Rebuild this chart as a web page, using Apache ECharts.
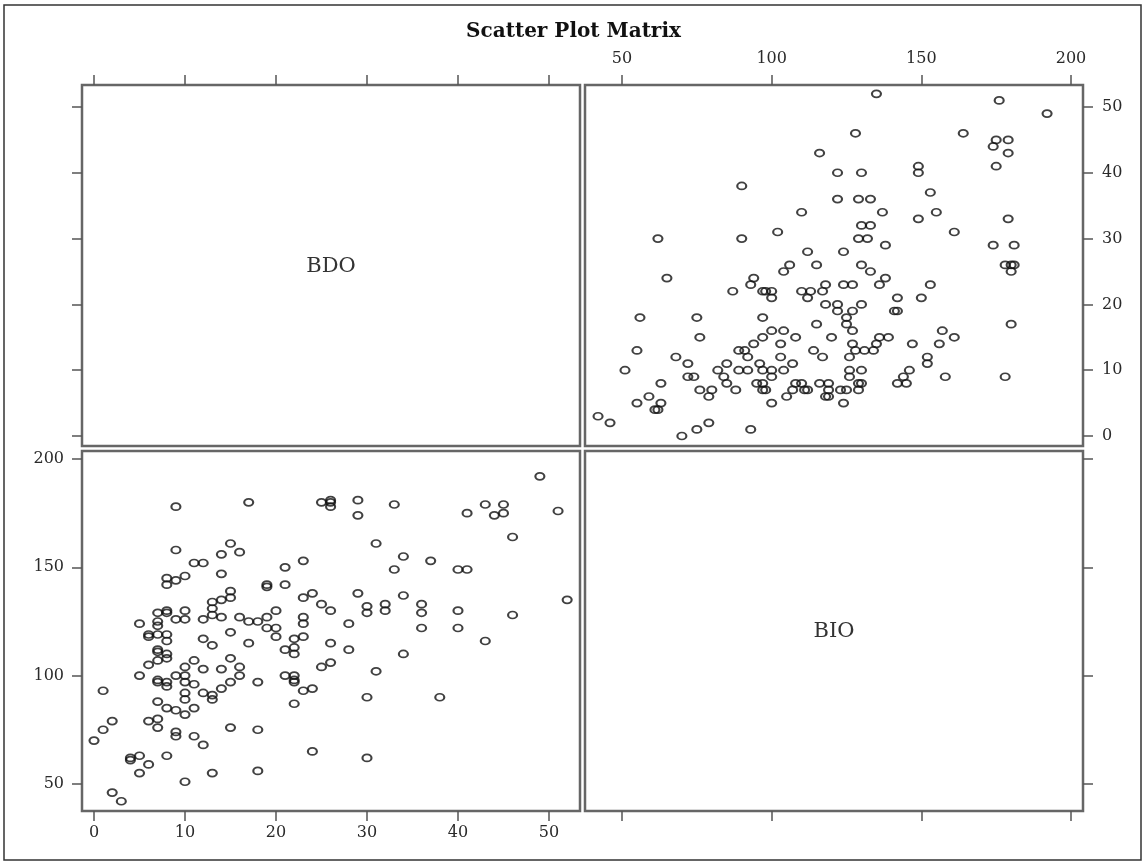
<!DOCTYPE html>
<html>
<head>
<meta charset="utf-8">
<script src="https://cdn.jsdelivr.net/npm/echarts@6/dist/echarts.min.js"></script>
<style>
  html, body { margin: 0; padding: 0; background: #fff; }
  #main { width: 1147px; height: 862px; }
</style>
</head>
<body>
<div id="main"></div>
<script>
var bdo = [49,25,26,26,26,29,29,33,33,41,43,44,45,45,46,51,31,34,37,40,41,29,34,25,26,30,30,32,32,36,36,40,52,28,36,40,46,26,28,34,43,25,26,31,30,38,30,
  9,17,9,15,14,16,11,12,23,21,8,8,9,10,14,19,19,21,15,15,23,24,13,14,13,13,7,8,8,10,20,7,7,5,9,10,12,14,16,17,18,19,23,23,19,20,15,6,6,7,8,8,12,13,17,20,22,23,21,7,
  22,22,7,8,8,7,6,5,11,10,9,10,12,14,15,16,16,15,14,13,13,12,11,10,10,10,7,7,8,8,7,8,9,10,11,6,7,7,9,9,11,12,15,18,21,22,22,22,23,24,22,18,24,1,2,1,0,4,4,5,6,5,8,13,10,18,2,3];
var bio = [192,180,181,178,180,181,174,179,149,175,179,174,179,175,164,176,161,155,153,149,149,138,137,133,130,132,129,133,130,133,129,130,135,124,122,122,128,115,112,110,116,104,106,102,90,90,62,
  178,180,158,161,156,157,152,152,153,150,145,142,144,146,147,141,142,142,139,136,136,138,134,135,131,128,129,129,130,130,130,125,123,124,126,126,126,127,127,125,125,127,127,124,122,122,120,119,118,119,119,116,117,114,115,118,117,118,112,112,
  113,110,111,110,108,107,105,100,107,104,100,100,103,103,108,104,100,97,94,91,89,92,96,97,92,89,97,98,97,95,88,85,84,82,85,79,80,76,74,72,72,68,76,75,100,100,97,98,93,94,87,97,65,93,79,75,70,62,61,63,59,55,63,55,51,56,46,42];

var bdoTicks = [0, 10, 20, 30, 40, 50];
var bioTicks = [50, 100, 150, 200];

var lowerLeft = bdo.map(function (v, i) { return [v, bio[i]]; });
var upperRight = bdo.map(function (v, i) { return [bio[i], v]; });

var FONT = 'DejaVu Serif';

function axis(gridIndex, pos, min, max, ticks, showLabel, margin) {
  return {
    type: 'value',
    gridIndex: gridIndex,
    position: pos,
    min: min,
    max: max,
    axisLine: { show: false, onZero: false },
    axisTick: {
      show: true,
      inside: false,
      length: 10,
      customValues: ticks,
      lineStyle: { color: '#555', width: 1.5 }
    },
    axisLabel: {
      show: showLabel,
      customValues: ticks,
      margin: margin,
      color: '#2a2a2a',
      fontFamily: FONT,
      fontSize: 16
    },
    splitLine: { show: false }
  };
}

var chart = echarts.init(document.getElementById('main'));

var gridStyle = { show: true, borderColor: '#666', borderWidth: 2.5, backgroundColor: '#fff' };

var markerStyle = {
  color: 'rgba(255,255,255,0)',
  borderColor: '#111',
  borderWidth: 1.9
};

var option = {
  animation: false,
  backgroundColor: '#fff',
  title: {
    text: 'Scatter Plot Matrix',
    left: 'center',
    top: 17,
    textStyle: { fontFamily: FONT, fontWeight: 'bold', fontSize: 20, color: '#111' }
  },
  grid: [
    Object.assign({ left: 82, top: 85, width: 498, height: 361 }, gridStyle),
    Object.assign({ left: 585, top: 85, width: 498, height: 361 }, gridStyle),
    Object.assign({ left: 82, top: 451, width: 498, height: 360 }, gridStyle),
    Object.assign({ left: 585, top: 451, width: 498, height: 360 }, gridStyle)
  ],
  xAxis: [
    axis(0, 'top', -1.32, 53.41, bdoTicks, false, 18),
    axis(1, 'top', 37.64, 204.0, bioTicks, true, 18),
    axis(2, 'bottom', -1.32, 53.41, bdoTicks, true, 14),
    axis(3, 'bottom', 37.64, 204.0, bioTicks, false, 14)
  ],
  yAxis: [
    axis(0, 'left', -1.52, 53.34, bdoTicks, false, 18),
    axis(1, 'right', -1.52, 53.34, bdoTicks, true, 19),
    axis(2, 'left', 37.5, 203.7, bioTicks, true, 18),
    axis(3, 'right', 37.5, 203.7, bioTicks, false, 19)
  ],
  graphic: [
    {
      type: 'rect',
      shape: { x: 4, y: 5, width: 1137, height: 855 },
      style: { fill: 'none', stroke: '#333', lineWidth: 1.5 },
      silent: true
    },
    {
      type: 'text', x: 331, y: 267,
      style: { text: 'BDO', fontFamily: FONT, fontSize: 21, fill: '#333', align: 'center', verticalAlign: 'middle' },
      silent: true
    },
    {
      type: 'text', x: 834, y: 632,
      style: { text: 'BIO', fontFamily: FONT, fontSize: 21, fill: '#333', align: 'center', verticalAlign: 'middle' },
      silent: true
    }
  ],
  series: [
    {
      type: 'scatter',
      xAxisIndex: 1,
      yAxisIndex: 1,
      data: upperRight,
      symbol: 'circle',
      symbolSize: [9, 7],
      itemStyle: markerStyle,
      silent: true
    },
    {
      type: 'scatter',
      xAxisIndex: 2,
      yAxisIndex: 2,
      data: lowerLeft,
      symbol: 'circle',
      symbolSize: [9, 7],
      itemStyle: markerStyle,
      silent: true
    }
  ]
};

option && chart.setOption(option);
</script>
</body>
</html>
